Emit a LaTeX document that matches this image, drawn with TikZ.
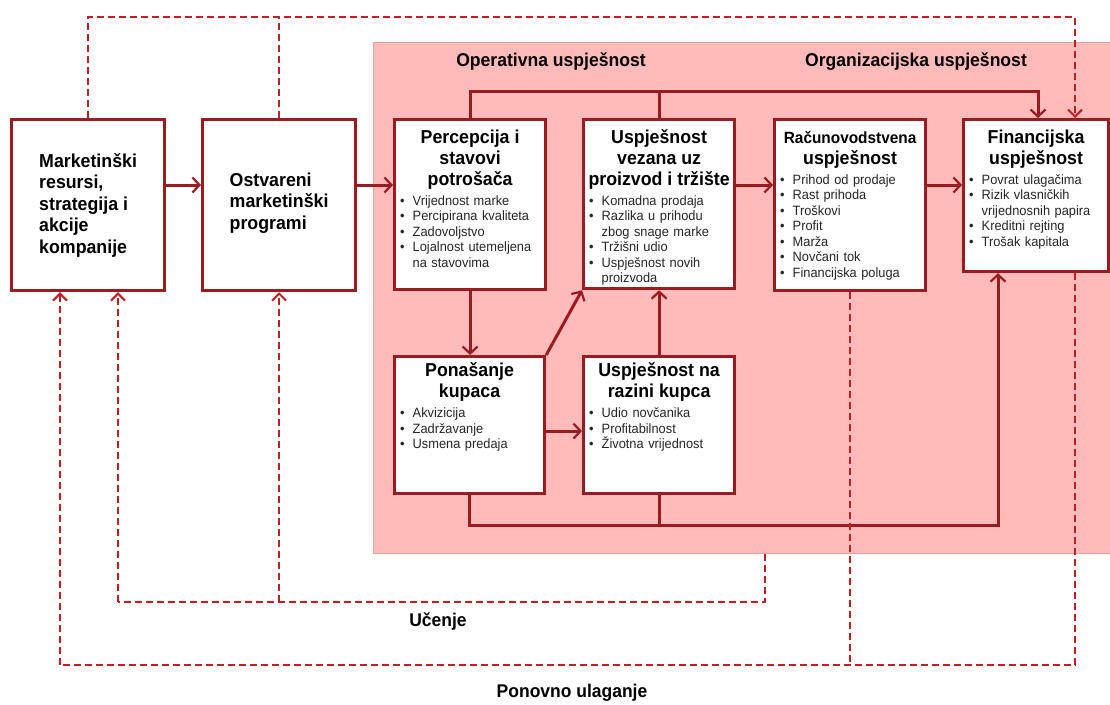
\documentclass[tikz,border=0pt]{standalone}
\usepackage{fontspec}
\setmainfont{Liberation Sans}[FakeStretch=0.95]
\usetikzlibrary{arrows.meta}
\definecolor{boxred}{RGB}{155,28,32}
\definecolor{dashred}{RGB}{192,32,36}
\definecolor{pinkbg}{RGB}{255,186,186}
\definecolor{pinkedge}{RGB}{226,162,162}
\newcommand{\bul}[1]{\noindent\hangindent=12.5pt\hangafter=1\makebox[12.5pt][l]{\textbullet}#1\par}
\newcommand{\tstrut}{\rule{0pt}{14pt}}

\begin{document}
\begin{tikzpicture}[x=1pt, y=-1pt,
    pinkarea/.style={draw=pinkedge, line width=0.8pt, fill=pinkbg, anchor=north west, inner sep=0pt, minimum width=740, minimum height=511},
    boxframe/.style={draw=boxred, line width=3.2pt, fill=white, anchor=north west, inner sep=0pt},
    title/.style={anchor=north, inner sep=0pt, align=center, font=\fontsize{18.7}{21}\selectfont\bfseries},
    mainline/.style={inner sep=0pt, align=left, font=\fontsize{18.7}{21.5}\selectfont\bfseries},
    bullets/.style={anchor=north west, inner sep=0pt, text width=140, align=left, text=black!85, font=\fontsize{13.5}{15.5}\selectfont},
    grouptext/.style={inner sep=0pt, font=\fontsize{18.5}{20}\selectfont\bfseries},
    fbtext/.style={inner sep=0pt, font=\fontsize{18.4}{20}\selectfont\bfseries},
    solidline/.style={draw=boxred, line width=3pt},
    solidarr/.style={solidline, -{Straight Barb[length=7pt,width=15pt,line width=2.2pt]}},
    dashline/.style={draw=dashred, line width=2.6pt, dash pattern=on 7pt off 4pt},
    dasharr/.style={dashline, -{Straight Barb[length=7pt,width=14pt,line width=2pt]}}]

   \useasboundingbox (0,0) rectangle (1110,704);
   \node[pinkarea] (area) at (373,42) {};

   \node[boxframe, minimum width=153, minimum height=171] (res)  at (10,118)  {};
   \node[boxframe, minimum width=153, minimum height=171] (prog) at (201,118) {};
   \node[boxframe, minimum width=151, minimum height=170] (perc) at (393,118) {};
   \node[boxframe, minimum width=151, minimum height=169] (prod) at (582,118) {};
   \node[boxframe, minimum width=151, minimum height=171] (acc)  at (773,118) {};
   \node[boxframe, minimum width=145, minimum height=152] (fin)  at (962,118) {};
   \node[boxframe, minimum width=150, minimum height=137] (beh)  at (393,355) {};
   \node[boxframe, minimum width=151, minimum height=137] (cust) at (582,355) {};

   \node[mainline] (res-t)  at (res.center) {Marketinški\\resursi,\\strategija i\\akcije\\kompanije};
   \node[mainline] (prog-t) at ([yshift=2pt]prog.center) {Ostvareni\\marketinški\\programi};

   \node[title] (perc-t) at ([yshift=-11pt]perc.north) {\tstrut Percepcija i\\stavovi\\potrošača};
   \node[title] (prod-t) at ([yshift=-11pt]prod.north) {\tstrut Uspješnost\\vezana uz\\proizvod i tržište};
   \node[title] (acc-t)  at ([yshift=-11pt]acc.north)  {\tstrut{\fontsize{16.2}{21}\selectfont Računovodstvena}\\uspješnost};
   \node[title] (fin-t)  at ([yshift=-11pt]fin.north)  {\tstrut Financijska\\uspješnost};
   \node[title] (beh-t)  at ([yshift=-7.5pt]beh.north)  {\tstrut Ponašanje\\kupaca};
   \node[title] (cust-t) at ([yshift=-7.5pt]cust.north) {\tstrut Uspješnost na\\razini kupca};

   \node[bullets] (perc-b) at ([xshift=7pt,yshift=-6pt]perc-t.south -| perc.west)
      {\bul{Vrijednost marke}\bul{Percipirana kvaliteta}\bul{Zadovoljstvo}\bul{Lojalnost utemeljena\newline na stavovima}};
   \node[bullets] (prod-b) at ([xshift=7pt,yshift=-6pt]prod-t.south -| prod.west)
      {\bul{Komadna prodaja}\bul{Razlika u prihodu\newline zbog snage marke}\bul{Tržišni udio}\bul{Uspješnost novih\newline proizvoda}};
   \node[bullets] (acc-b) at ([xshift=7pt,yshift=-6pt]acc-t.south -| acc.west)
      {\bul{Prihod od prodaje}\bul{Rast prihoda}\bul{Troškovi}\bul{Profit}\bul{Marža}\bul{Novčani tok}\bul{Financijska poluga}};
   \node[bullets] (fin-b) at ([xshift=7pt,yshift=-6pt]fin-t.south -| fin.west)
      {\bul{Povrat ulagačima}\bul{Rizik vlasničkih\newline vrijednosnih papira}\bul{Kreditni rejting}\bul{Trošak kapitala}};
   \node[bullets] (beh-b) at ([xshift=7pt,yshift=-6pt]beh-t.south -| beh.west)
      {\bul{Akvizicija}\bul{Zadržavanje}\bul{Usmena predaja}};
   \node[bullets] (cust-b) at ([xshift=7pt,yshift=-6pt]cust-t.south -| cust.west)
      {\bul{Udio novčanika}\bul{Profitabilnost}\bul{Životna vrijednost}};

   \node[grouptext] (oper)  at (551,62) {Operativna uspješnost};
   \node[grouptext] (organ) at (916,62) {Organizacijska uspješnost};
   \node[fbtext] (ucenje)   at (438,622) {Učenje};
   \node[fbtext] (ulaganje) at (572,693) {Ponovno ulaganje};

   \coordinate (flowy) at (0,185);
   \draw[solidarr] (res.east |- flowy) -- (prog.west |- flowy);
   \draw[solidarr] (prog.east |- flowy) -- (perc.west |- flowy);
   \draw[solidarr] (prod.east |- flowy) -- (acc.west |- flowy);
   \draw[solidarr] (acc.east |- flowy) -- (fin.west |- flowy);
   \draw[solidarr] (perc.south) -- (perc.south |- beh.north);
   \draw[solidarr] (beh.north east) -- (prod.south west);
   \draw[solidarr] ([yshift=-6pt]beh.east) -- ([yshift=-6pt]cust.west);
   \draw[solidarr] (cust.north) -- (prod.south);
   \coordinate (topline) at (1038,91);
   \draw[solidarr] (perc.north) |- (topline) -- (topline |- fin.north);
   \draw[solidline] (prod.north) -- (prod.north |- topline);
   \coordinate (botline) at (998,525);
   \draw[solidarr] (beh.south) |- (botline) -- (botline |- fin.south);
   \draw[solidline] (cust.south) -- (cust.south |- botline);

   \coordinate (topfb) at (1075,17);
   \draw[dasharr] (res.north) |- (topfb) -- (topfb |- fin.north);
   \draw[dashline] (prog.north) -- (prog.north |- topfb);
   \coordinate (learny) at (765,602);
   \coordinate (learnx) at (118,602);
   \draw[dashline] (learny |- area.south) -- (learny) -- (learnx);
   \draw[dasharr] (learnx) -- (learnx |- res.south);
   \draw[dasharr] (prog.south |- learny) -- (prog.south);
   \coordinate (reinvx) at (60,665);
   \draw[dashline] (acc.south) -- (acc.south |- reinvx);
   \draw[dashline] (topfb |- fin.south) |- (reinvx);
   \draw[dasharr] (reinvx) -- (reinvx |- res.south);

\end{tikzpicture}
\end{document}
